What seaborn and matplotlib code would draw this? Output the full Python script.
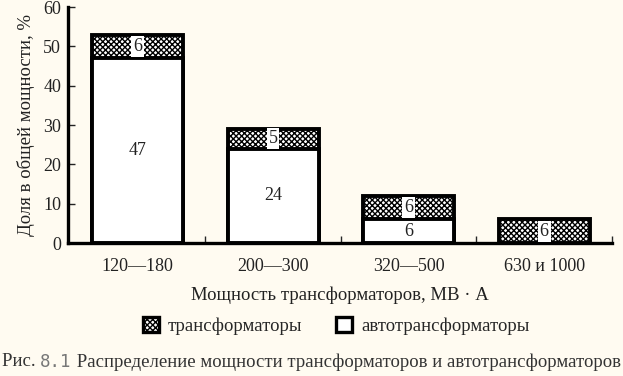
import matplotlib
matplotlib.use("Agg")
import matplotlib.pyplot as plt
import seaborn as sns
import pandas as pd
from matplotlib.patches import Patch

categories = ["120—180", "200—300", "320—500", "630 и 1000"]
auto_vals = [47, 24, 6, 0]
trans_vals = [6, 5, 6, 6]
yticks = [0, 10, 20, 30, 40, 50, 60]

BG = "#fffbf1"
sns.set_theme(style="white")
plt.rcParams["font.family"] = ["Liberation Serif", "DejaVu Serif"]
plt.rcParams["hatch.linewidth"] = 1.0
plt.rcParams["hatch.color"] = "black"

totals = [a + t for a, t in zip(auto_vals, trans_vals)]
df = pd.DataFrame({"cat": categories, "auto": auto_vals, "trans": trans_vals, "total": totals})

fig = plt.figure(figsize=(6.23, 3.76), dpi=100, facecolor=BG)
ax = fig.add_axes([68/623, 1-243/376, (612-68)/623, (243-7)/376])
ax.set_facecolor(BG)

sns.barplot(data=df, x="cat", y="total", ax=ax, color="white", width=0.67,
            edgecolor="black", linewidth=2.8, hatch="xxxxxx", saturation=1)
n_first = len(ax.patches)
sns.barplot(data=df, x="cat", y="auto", ax=ax, color="white", width=0.67,
            edgecolor="black", linewidth=2.8, saturation=1)
for p, a in zip(ax.patches[n_first:], auto_vals):
    if a == 0:
        p.set_visible(False)

TXT = "#222222"
for i, (a, t) in enumerate(zip(auto_vals, trans_vals)):
    if a > 0:
        ax.text(i, a / 2, str(a), ha="center", va="center", fontsize=13, color=TXT)
    ax.text(i, a + t / 2, str(t), ha="center", va="center", fontsize=13, color=TXT,
            bbox=dict(boxstyle="square,pad=0.1", fc="white", ec="none"))

ax.set_xlim(-0.513, 3.5)
ax.set_ylim(0, 60)
ax.set_yticks(yticks)
ax.set_yticklabels([str(v) for v in yticks])
ax.set_xticks(range(len(categories)))
ax.set_xticklabels(categories)
ax.set_xticks([0.5, 1.5, 2.5, 3.5], minor=True)
ax.tick_params(axis="x", which="major", length=0, labelsize=13, pad=11, colors=TXT)
ax.tick_params(axis="x", which="minor", direction="in", length=5, width=1, bottom=True)
ax.tick_params(axis="y", direction="in", length=5, width=1, left=True, labelsize=13,
               pad=5, colors=TXT)
for s in ["top", "right"]:
    ax.spines[s].set_visible(False)
for s in ["left", "bottom"]:
    ax.spines[s].set_linewidth(2.4)
    ax.spines[s].set_color("black")

ax.set_xlabel("Мощность трансформаторов, МВ · А", fontsize=13.5, color=TXT, labelpad=8)
ax.set_ylabel("Доля в общей мощности, %", fontsize=13.5, color=TXT, labelpad=6)

handles = [Patch(facecolor="white", edgecolor="black", hatch="xxxxxx", linewidth=2.4),
           Patch(facecolor="white", edgecolor="black", linewidth=2.4)]
fig.legend(handles, ["трансформаторы", "автотрансформаторы"], loc="center",
           bbox_to_anchor=(0.54, 1-326/376), ncol=2, frameon=False, fontsize=13.5,
           handlelength=0.85, handleheight=0.85, handletextpad=0.5, columnspacing=1.8)

CY = 1 - 362/376
t1 = fig.text(0.003, CY, "Рис. ", fontsize=13.5, color="#333333", va="center")
t2 = fig.text(0, 0, "8.1", fontsize=12.5, family="DejaVu Sans Mono", color="#777777",
              va="center")
t3 = fig.text(0, 0, " Распределение мощности трансформаторов и автотрансформаторов",
              fontsize=13.5, color="#333333", va="center")
fig.canvas.draw()
r = fig.canvas.get_renderer()
bb1 = t1.get_window_extent(r)
t2.set_position((bb1.x1 / fig.bbox.width, CY))
fig.canvas.draw()
bb2 = t2.get_window_extent(r)
t3.set_position((bb2.x1 / fig.bbox.width, CY))

fig.savefig("out.png", dpi=100, facecolor=BG)
